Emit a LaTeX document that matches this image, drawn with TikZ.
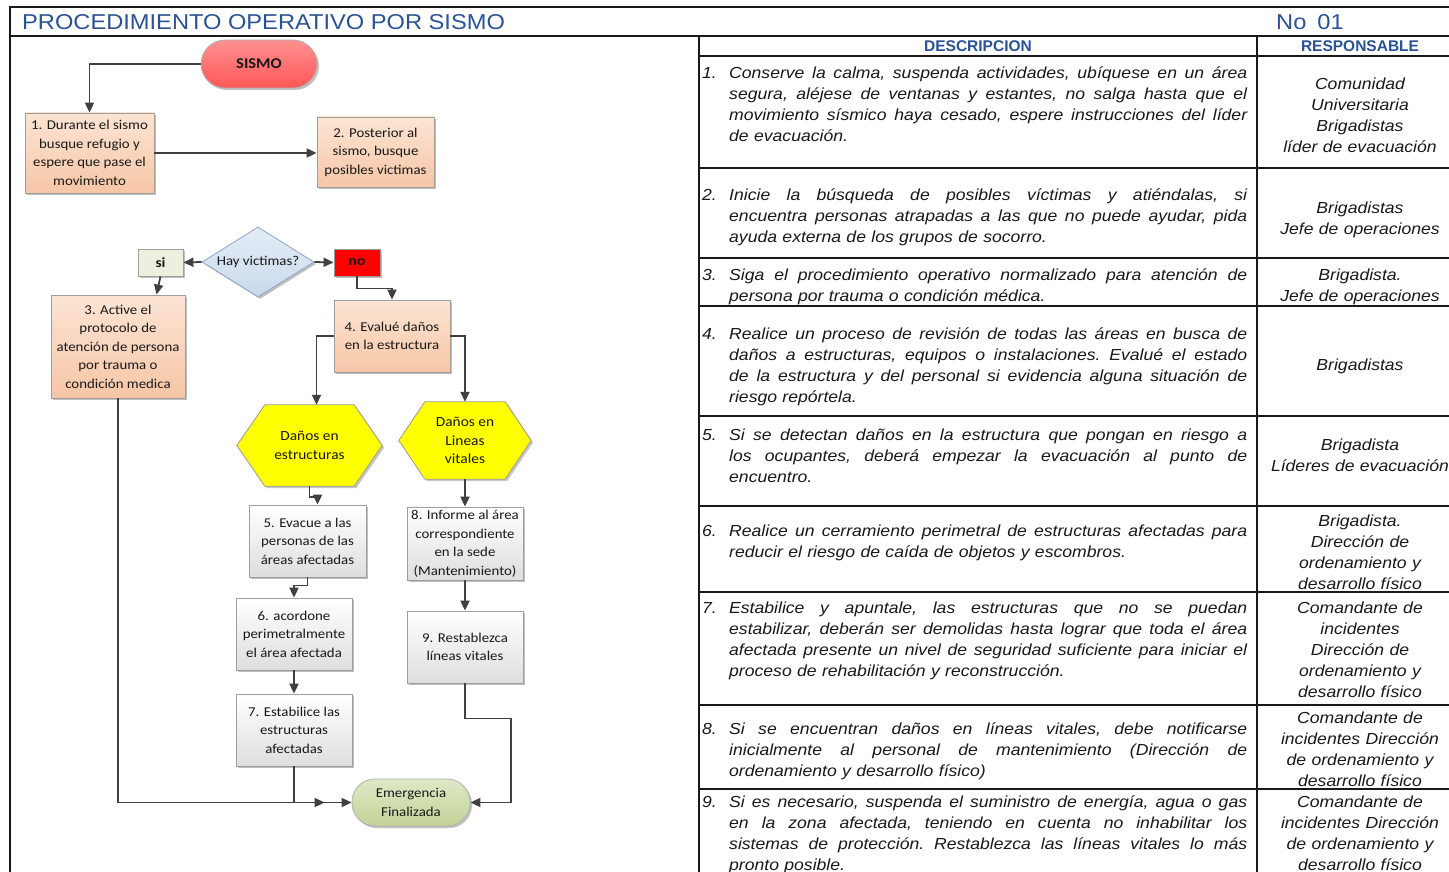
\documentclass[tikz,border=0pt]{standalone}
\usepackage{fontspec}
\usetikzlibrary{arrows.meta,shapes.geometric,shadows,calc}
\newfontfamily\arialX[FakeStretch=1.1]{Liberation Sans}
\newfontfamily\calX[FakeStretch=1.1]{Carlito}
\newfontfamily\hdrfont{Liberation Sans}
\definecolor{ttl}{HTML}{2B5294}
\definecolor{peachT}{HTML}{FCE4D4}
\definecolor{peachB}{HTML}{F6C6A6}
\definecolor{redT}{HTML}{FF9090}
\definecolor{redB}{HTML}{FF5757}
\definecolor{diaT}{HTML}{E4EDF7}
\definecolor{diaB}{HTML}{C9D9EB}
\definecolor{diaD}{HTML}{8FA6C2}
\definecolor{siF}{HTML}{EBF1DE}
\definecolor{hexY}{HTML}{FFFF00}
\definecolor{emT}{HTML}{DEE8C6}
\definecolor{emB}{HTML}{C2D397}
\definecolor{lnc}{HTML}{404040}
\pgfdeclarelayer{bg}
\pgfsetlayers{bg,main}
\newcommand\jl[1]{\makebox[518pt][s]{\spaceskip=\fontdimen2\font plus 1fil minus \fontdimen4\font\relax\xspaceskip=\spaceskip #1}}
\begin{document}
\begin{tikzpicture}[x=1pt,y=-1pt,
  tbl/.style={draw=black!90,line width=1.6pt},
  shd/.style={drop shadow={shadow xshift=2pt,shadow yshift=-2pt,opacity=0.25,fill=black}},
  fbox/.style={shd,draw=black!38,line width=0.8pt,align=center,font=\calX\fontsize{13.5}{18.5}\selectfont,text=black!90,inner sep=1pt},
  peach/.style={fbox,top color=peachT,bottom color=peachB},
  greyb/.style={fbox,top color=white,bottom color=black!13},
  conn/.style={draw=lnc,line width=1.8pt,-{Triangle[length=10pt,width=9pt]}},
  desc/.style={font=\arialX\itshape\fontsize{16}{21}\selectfont\frenchspacing,text width=518pt,align=left,inner sep=0pt,text=black!90},
  numl/.style={font=\arialX\itshape\fontsize{16}{21}\selectfont,inner sep=0pt,text=black!90},
  resp/.style={font=\arialX\itshape\fontsize{16}{21}\selectfont,text width=200pt,align=center,inner sep=0pt,text=black!90},
  hdr/.style={font=\hdrfont\bfseries\fontsize{15.5}{18}\selectfont,text=ttl,inner sep=0pt},
  hexn/.style={align=center,font=\calX\fontsize{14}{18.5}\selectfont,text=black!90,inner sep=0pt}
]
\begin{pgfonlayer}{bg}
\fill[white] (0,0) rectangle (1449,872);
\end{pgfonlayer}
\useasboundingbox (0,0) rectangle (1449,872);

% ---------- frame and table ----------
\draw[tbl] (10,872) -- (10,7) -- (1449,7);
\draw[tbl] (10,36) -- (1449,36);
\draw[tbl] (699,36) -- (699,872);
\draw[tbl] (1257,36) -- (1257,872);
\foreach \yy in {56,168,258,306,416,506,592,705,789}
  \draw[tbl] (699,\yy) -- (1449,\yy);

\node[anchor=base west,inner sep=0pt,font=\arialX\fontsize{21.5}{24}\selectfont,text=ttl] (title) at (22,29.5) {PROCEDIMIENTO OPERATIVO POR SISMO};
\node[anchor=base west,inner sep=0pt,font=\arialX\fontsize{21.5}{24}\selectfont,text=ttl] (numero) at (1276,29.5) {No\hspace{11pt}01};

\node[hdr,anchor=base] (hd) at (978,51.5) {DESCRIPCION};
\node[hdr,anchor=base] (hr) at (1360,51.5) {RESPONSABLE};

% descriptions
\node[numl,anchor=base west] (n1) at (702,78.5) {1.};
\node[desc,anchor=base west] (d1) at (729,78.5) {\jl{Conserve la calma, suspenda actividades, ubíquese en un área}\\\jl{segura, aléjese de ventanas y estantes, no salga hasta que el}\\\jl{movimiento sísmico haya cesado, espere instrucciones del líder}\\de evacuación.};
\node[numl,anchor=base west] (n2) at (702,200.5) {2.};
\node[desc,anchor=base west] (d2) at (729,200.5) {\jl{Inicie la búsqueda de posibles víctimas y atiéndalas, si}\\\jl{encuentra personas atrapadas a las que no puede ayudar, pida}\\ayuda externa de los grupos de socorro.};
\node[numl,anchor=base west] (n3) at (702,280.5) {3.};
\node[desc,anchor=base west] (d3) at (729,280.5) {\jl{Siga el procedimiento operativo normalizado para atención de}\\persona por trauma o condición médica.};
\node[numl,anchor=base west] (n4) at (702,339.5) {4.};
\node[desc,anchor=base west] (d4) at (729,339.5) {\jl{Realice un proceso de revisión de todas las áreas en busca de}\\\jl{daños a estructuras, equipos o instalaciones. Evalué el estado}\\\jl{de la estructura y del personal si evidencia alguna situación de}\\riesgo repórtela.};
\node[numl,anchor=base west] (n5) at (702,440.5) {5.};
\node[desc,anchor=base west] (d5) at (729,440.5) {\jl{Si se detectan daños en la estructura que pongan en riesgo a}\\\jl{los ocupantes, deberá empezar la evacuación al punto de}\\encuentro.};
\node[numl,anchor=base west] (n6) at (702,536.5) {6.};
\node[desc,anchor=base west] (d6) at (729,536.5) {\jl{Realice un cerramiento perimetral de estructuras afectadas para}\\reducir el riesgo de caída de objetos y escombros.};
\node[numl,anchor=base west] (n7) at (702,613.5) {7.};
\node[desc,anchor=base west] (d7) at (729,613.5) {\jl{Estabilice y apuntale, las estructuras que no se puedan}\\\jl{estabilizar, deberán ser demolidas hasta lograr que toda el área}\\\jl{afectada presente un nivel de seguridad suficiente para iniciar el}\\proceso de rehabilitación y reconstrucción.};
\node[numl,anchor=base west] (n8) at (702,734.5) {8.};
\node[desc,anchor=base west] (d8) at (729,734.5) {\jl{Si se encuentran daños en líneas vitales, debe notificarse}\\\jl{inicialmente al personal de mantenimiento (Dirección de}\\ordenamiento y desarrollo físico)};
\node[numl,anchor=base west] (n9) at (702,807.5) {9.};
\node[desc,anchor=base west] (d9) at (729,807.5) {\jl{Si es necesario, suspenda el suministro de energía, agua o gas}\\\jl{en la zona afectada, teniendo en cuenta no inhabilitar los}\\\jl{sistemas de protección. Restablezca las líneas vitales lo más}\\pronto posible.};

% responsables
\node[resp,anchor=base] (r1) at (1360,89.5) {Comunidad\\Universitaria\\Brigadistas\\líder de evacuación};
\node[resp,anchor=base] (r2) at (1360,213.5) {Brigadistas\\Jefe de operaciones};
\node[resp,anchor=base] (r3) at (1360,280.5) {Brigadista.\\Jefe de operaciones};
\node[resp,anchor=base] (r4) at (1360,370.5) {Brigadistas};
\node[resp,anchor=base] (r5) at (1360,450.5) {Brigadista\\Líderes de evacuación};
\node[resp,anchor=base] (r6) at (1360,526) {Brigadista.\\Dirección de\\ordenamiento y\\desarrollo físico};
\node[resp,anchor=base] (r7) at (1360,613.5) {Comandante de\\incidentes\\Dirección de\\ordenamiento y\\desarrollo físico};
\node[resp,anchor=base] (r8) at (1360,723.5) {Comandante de\\incidentes Dirección\\de ordenamiento y\\desarrollo físico};
\node[resp,anchor=base] (r9) at (1360,807.5) {Comandante de\\incidentes Dirección\\de ordenamiento y\\desarrollo físico};

% ---------- flowchart ----------
\node[fbox,top color=redT,bottom color=redB,draw=black!30,rounded corners=24pt,minimum width=116pt,minimum height=48pt,font=\calX\bfseries\fontsize{15}{18}\selectfont] (sismo) at (259,64) {SISMO};
\node[peach,minimum width=129pt,minimum height=80pt] (b1) at (89.5,153) {1. Durante el sismo\\busque refugio y\\espere que pase el\\movimiento};
\node[peach,minimum width=117pt,minimum height=70pt] (b2) at (375.5,152) {2. Posterior al\\sismo, busque\\posibles victimas};
\node[fbox,shape=diamond,aspect=1.6,inner sep=0pt,minimum width=112pt,minimum height=70pt,top color=diaT,bottom color=diaB,draw=diaD] (dia) at (258,262) {Hay victimas?};
\node[fbox,fill=siF,minimum width=45pt,minimum height=27pt,font=\calX\bfseries\fontsize{14}{16}\selectfont] (si) at (160.5,262.5) {si};
\node[fbox,fill=red,draw=black!40,minimum width=46pt,minimum height=27pt,font=\calX\bfseries\fontsize{14}{16}\selectfont] (no) at (357,262.5) {no};
\node[peach,minimum width=134pt,minimum height=103pt] (b3) at (118,346.5) {3. Active el\\protocolo de\\atención de persona\\por trauma o\\condición medica};
\node[peach,minimum width=116pt,minimum height=72pt] (b4) at (392,336) {4. Evalué daños\\en la estructura};
\node[hexn,minimum width=145pt,minimum height=81pt] (h1) at (309.5,445.5) {Daños en\\estructuras};
\node[hexn,minimum width=132pt,minimum height=77pt] (h2) at (465,440.5) {Daños en\\Lineas\\vitales};
\node[greyb,minimum width=117pt,minimum height=72pt] (b5) at (307.5,541) {5. Evacue a las\\personas de las\\áreas afectadas};
\node[greyb,minimum width=116pt,minimum height=72pt] (b6) at (294,634) {6. acordone\\perimetralmente\\el área afectada};
\node[greyb,minimum width=116pt,minimum height=72pt] (b7) at (294,730) {7. Estabilice las\\estructuras\\afectadas};
\node[greyb,minimum width=116pt,minimum height=73pt] (b8) at (465,543.5) {8. Informe al área\\correspondiente\\en la sede\\(Mantenimiento)};
\node[greyb,minimum width=116pt,minimum height=72pt] (b9) at (465,647) {9. Restablezca\\líneas vitales};
\node[fbox,top color=emT,bottom color=emB,draw=black!30,rounded corners=23pt,minimum width=118pt,minimum height=47pt] (emerg) at (411,802.5) {Emergencia\\Finalizada};

\begin{pgfonlayer}{bg}
\foreach \h/\d in {h1/28,h2/26}{
  \begin{scope}[transform canvas={shift={(2pt,-2pt)}}]
  \fill[black,opacity=0.22] (\h.west) -- ([xshift=\d pt]\h.north west) -- ([xshift=-\d pt]\h.north east) -- (\h.east) -- ([xshift=-\d pt]\h.south east) -- ([xshift=\d pt]\h.south west) -- cycle;
  \end{scope}
  \filldraw[fill=hexY,draw=black!40,line width=0.8pt] (\h.west) -- ([xshift=\d pt]\h.north west) -- ([xshift=-\d pt]\h.north east) -- (\h.east) -- ([xshift=-\d pt]\h.south east) -- ([xshift=\d pt]\h.south west) -- cycle;
}
\end{pgfonlayer}

% connectors
\draw[conn] (sismo.west) -| (b1.north);
\draw[conn] (b1.east) -- (b1.east -| b2.west);
\draw[conn] (dia.west) -- (si.east);
\draw[conn] (dia.east) -- (no.west);
\draw[conn] (si.south) -- ([xshift=-4pt]si.south |- b3.north);
\draw[conn] (no.south) -- ++(0,12) -| (b4.north);
\draw[conn] (b4.west) -| ([xshift=7pt]h1.north);
\draw[conn] (b4.east) -| (h2.north);
\draw[conn] (h1.south) -- ++(0,11) -| ([xshift=10pt]b5.north);
\draw[conn] (b5.south) -- ++(0,8) -| (b6.north);
\draw[conn] (b6.south) -- (b7.north);
\draw[conn] (b7.south) |- ([xshift=-27pt]emerg.west);
\draw[conn] (b3.south) |- (emerg.west);
\draw[conn] (h2.south) -- (b8.north);
\draw[conn] (b8.south) -- (b9.north);
\draw[conn] (b9.south) -- ++(0,35) -- ++(46,0) |- (emerg.east);
\end{tikzpicture}
\end{document}
